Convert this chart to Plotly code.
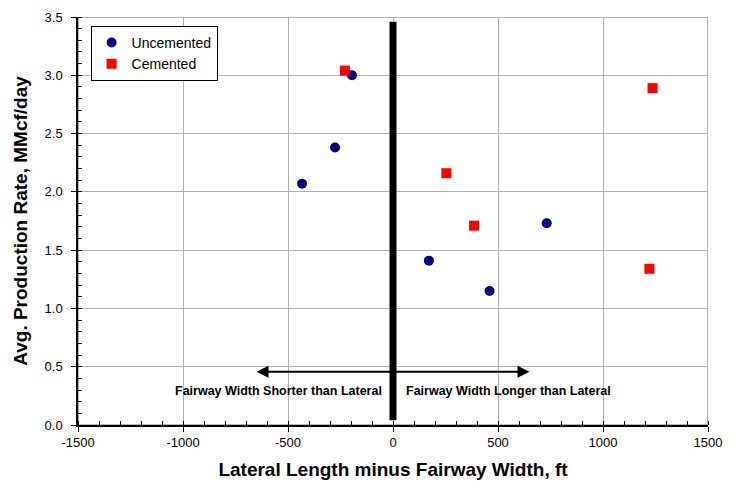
import plotly.graph_objects as go

unc_x = [-433, -276, -195, 171, 460, 732]
unc_y = [2.07, 2.38, 3.00, 1.41, 1.15, 1.73]
cem_x = [-229, 254, 386, 1236, 1221]
cem_y = [3.04, 2.16, 1.71, 2.89, 1.34]
x_ticks = [-1500, -1000, -500, 0, 500, 1000, 1500]
x_ticklabels = ["-1500", "-1000", "-500", "0", "500", "1000", "1500"]

fig = go.Figure()
fig.add_trace(go.Scatter(x=unc_x, y=unc_y, mode="markers", name="Uncemented",
                         marker=dict(symbol="circle", size=10, color="#000080")))
fig.add_trace(go.Scatter(x=cem_x, y=cem_y, mode="markers", name="Cemented",
                         marker=dict(symbol="square", size=10, color="#FF0000")))

# plot frame (gray)
fig.add_shape(type="rect", xref="x", yref="y", x0=-1500, x1=1500, y0=0, y1=3.5,
              line=dict(color="#999999", width=1.5), layer="below")
# thick divider line at zero
fig.add_shape(type="line", xref="x", yref="y", x0=0, x1=0, y0=0.04, y1=3.46,
              line=dict(color="black", width=7))

arr_y = 0.457
for tip in (-650, 650):
    fig.add_annotation(x=tip, y=arr_y, ax=0, ay=arr_y, xref="x", yref="y",
                       axref="x", ayref="y", showarrow=True, arrowhead=2,
                       arrowsize=1.2, arrowwidth=2, arrowcolor="black", text="")

fig.add_annotation(x=-45, y=0.29, xref="x", yref="y", text="<b>Fairway Width Shorter than Lateral</b>",
                   showarrow=False, xanchor="right", font=dict(family="Arial", size=12.5, color="black"))
fig.add_annotation(x=50, y=0.29, xref="x", yref="y", text="<b>Fairway Width Longer than Lateral</b>",
                   showarrow=False, xanchor="left", font=dict(family="Arial", size=12.5, color="black"))

fig.update_layout(
    width=737, height=481,
    margin=dict(l=70, r=37, t=9, b=64, autoexpand=False),
    plot_bgcolor="white", paper_bgcolor="white",
    font=dict(family="Arial", size=13, color="black"),
    legend=dict(x=0.02, y=0.978, xanchor="left", yanchor="top",
                bordercolor="black", borderwidth=1, bgcolor="white",
                font=dict(family="Arial", size=14), tracegroupgap=0,
                itemwidth=30),
    showlegend=True,
)
fig.update_xaxes(range=[-1500, 1500], tickvals=x_ticks, ticktext=x_ticklabels,
                 showgrid=True, gridcolor="#b0b0b0", gridwidth=1,
                 showline=True, linecolor="black", linewidth=1.5,
                 ticks="outside", ticklen=5, tickcolor="black",
                 minor=dict(ticks="inside", dtick=100, ticklen=4, tickcolor="black", showgrid=False),
                 zeroline=False, tickfont=dict(size=13), automargin=False,
                 title=dict(text="<b>Lateral Length minus Fairway Width, ft</b>",
                            font=dict(size=19), standoff=13))
fig.update_yaxes(range=[0, 3.5], dtick=0.5, tickformat=".1f",
                 showgrid=True, gridcolor="#b0b0b0", gridwidth=1,
                 showline=True, linecolor="black", linewidth=1.5,
                 ticks="outside", ticklen=5, tickcolor="black", ticklabelstandoff=6,
                 minor=dict(ticks="inside", dtick=0.1, ticklen=4, tickcolor="black", showgrid=False),
                 zeroline=False, tickfont=dict(size=13), automargin=False,
                 title=dict(text="<b>Avg. Production Rate, MMcf/day</b>",
                            font=dict(size=19), standoff=12))

fig.write_html("out.html")
